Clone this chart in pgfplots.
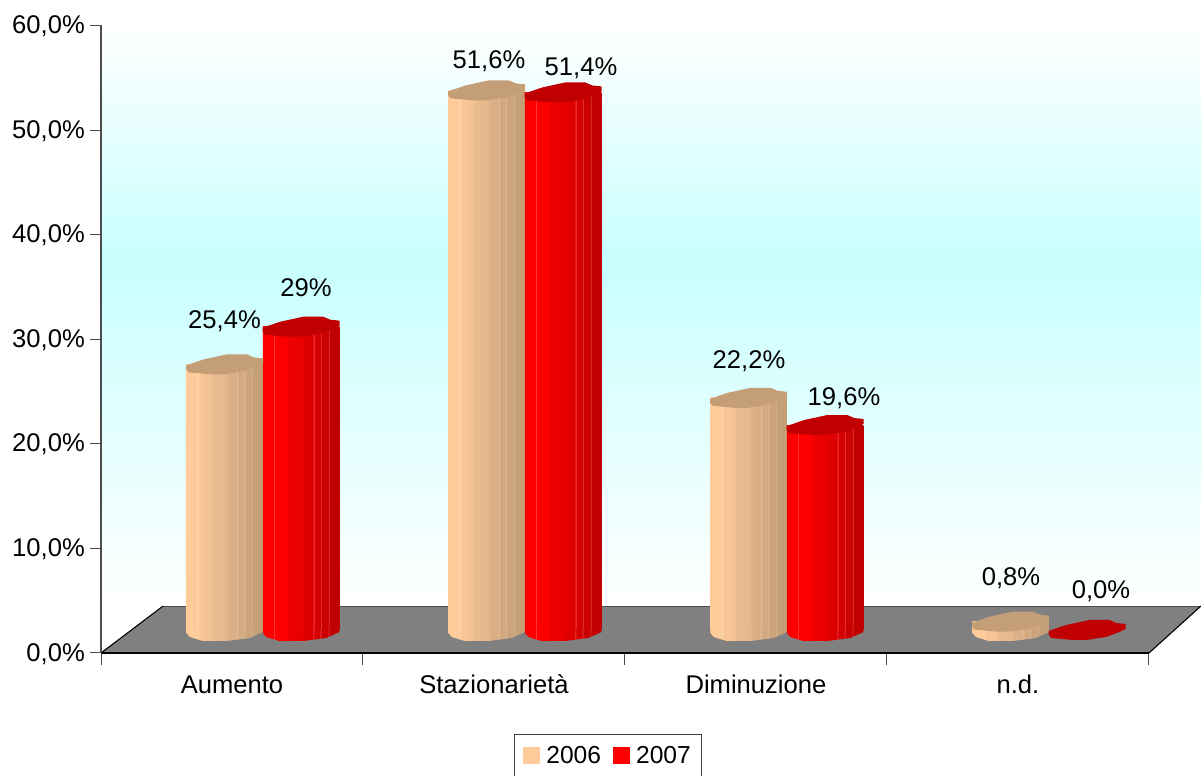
\documentclass[border=0pt]{standalone}
\usepackage{fontspec}
\setmainfont{Liberation Sans}
\usepackage{pgfplots}
\usepackage{pgfplotstable}
\pgfplotsset{compat=1.18}
\newcommand{\lfont}{\fontsize{25.6bp}{30bp}\selectfont}
\definecolor{tanc}{HTML}{FFCC99}
\definecolor{tantop}{HTML}{C49E76}
\definecolor{redtop}{HTML}{C00000}
\definecolor{wallc}{HTML}{C8FFFF}
\definecolor{floorc}{HTML}{808080}
\pgfdeclareverticalshading{wall}{100bp}{color(0bp)=(white);color(25bp)=(white);color(54.7bp)=(wallc);color(75bp)=(white);color(100bp)=(white)}
\pgfdeclarehorizontalshading{barA}{100bp}{rgb(0bp)=(1,.80,.60);rgb(25bp)=(1,.80,.60);
 rgb(31.8bp)=(.99,.79,.60);rgb(32bp)=(.99,.84,.68);rgb(32.6bp)=(.99,.84,.68);rgb(32.8bp)=(.98,.78,.59);
 rgb(41bp)=(.95,.76,.58);rgb(41.2bp)=(.92,.74,.56);
 rgb(51.3bp)=(.90,.72,.55);rgb(51.5bp)=(.87,.70,.53);
 rgb(57.6bp)=(.85,.68,.52);rgb(57.8bp)=(.89,.74,.60);rgb(58.4bp)=(.89,.74,.60);rgb(58.6bp)=(.83,.67,.50);
 rgb(62.3bp)=(.82,.66,.50);rgb(62.5bp)=(.85,.71,.57);rgb(63bp)=(.85,.71,.57);rgb(63.2bp)=(.80,.65,.49);
 rgb(67.5bp)=(.80,.64,.48);rgb(67.7bp)=(.82,.69,.55);rgb(68.2bp)=(.82,.69,.55);rgb(68.4bp)=(.78,.63,.47);
 rgb(75bp)=(.77,.62,.46);rgb(100bp)=(.77,.62,.46)}
\pgfdeclarehorizontalshading{barB}{100bp}{rgb(0bp)=(1,0,0);rgb(25bp)=(1,0,0);
 rgb(31.8bp)=(1,0,0);rgb(32bp)=(1,.2,.2);rgb(32.5bp)=(1,.2,.2);rgb(32.7bp)=(1,0,0);
 rgb(41bp)=(.98,0,0);rgb(41.2bp)=(.94,0,0);
 rgb(51.3bp)=(.90,0,0);rgb(51.5bp)=(.88,0,0);
 rgb(57.6bp)=(.86,0,0);rgb(57.8bp)=(.92,.2,.2);rgb(58.3bp)=(.92,.2,.2);rgb(58.5bp)=(.84,0,0);
 rgb(62.3bp)=(.82,0,0);rgb(62.5bp)=(.87,.18,.18);rgb(63bp)=(.87,.18,.18);rgb(63.2bp)=(.80,0,0);
 rgb(67.5bp)=(.79,0,0);rgb(67.7bp)=(.83,.16,.16);rgb(68.2bp)=(.83,.16,.16);rgb(68.4bp)=(.76,0,0);
 rgb(75bp)=(.75,0,0);rgb(100bp)=(.75,0,0)}
\newcommand{\pmv}[2]{\pgfpathmoveto{\pgfqpoint{#1bp}{#2bp}}}
\newcommand{\pln}[2]{\pgfpathlineto{\pgfqpoint{#1bp}{#2bp}}}
\newcommand{\capshape}{\pgfsetcornersarced{\pgfqpoint{5bp}{5bp}}%
 \pmv{-38.5}{-5}\pln{-38.5}{-1}\pln{-21}{5}\pln{2}{10}\pln{22}{10}\pln{29}{7}\pln{38.5}{6}\pln{38.5}{1}\pln{32}{-2}\pln{19}{-7}\pln{-1}{-10}\pln{-14}{-10}\pln{-36}{-8}\pgfpathclose}
\pgfdeclareplotmark{capm}{\capshape\pgfusepathqfill}
\newcommand{\baseshape}{\pgfsetcornersarced{\pgfqpoint{2bp}{2bp}}%
 \pmv{-38.25}{1}\pln{-38.25}{-3}\pln{-35}{-7}\pln{-22}{-11}\pln{2}{-11}\pln{25}{-8}\pln{38.25}{-2}\pln{38.25}{1}\pgfpathclose}
\pgfdeclareplotmark{baseA}{\baseshape\pgfshadepath{barA}{0}\pgfusepath{discard}}
\pgfdeclareplotmark{baseB}{\baseshape\pgfshadepath{barB}{0}\pgfusepath{discard}}
\pgfplotstableread{
x v b
0.354 25.4 0
1.354 51.6 0
2.354 22.2 0
3.354 0.8 0
}\dataA
\pgfplotstableread{
x v b
0.646 29.0 0
1.646 51.4 0
2.646 19.6 0
3.646 0.0 0
}\dataB
\pgfplotstableread{
x v dx dy lab
0.5 25.4 -38.5 43.5 25,4
1.5 51.6 -36 29.5 51,6
2.5 22.2 -38 37 22,2
3.5 0.8 -38 43 0,8
0.5 29.0 43 39 29
1.5 51.4 56 24 51,4
2.5 19.6 57 27 19,6
3.5 0.0 52 39 0,0
}\dataL
\pgfplotsset{barsA/.style={ybar, bar width=76.5bp, bar shift=0pt, draw=none, shade, shading=barA},
 barsB/.style={ybar, bar width=76.5bp, bar shift=0pt, draw=none, shade, shading=barB}}
\begin{document}
\begin{tikzpicture}[font=\lfont]
\path[use as bounding box, clip] (0,0) rectangle (1201bp,776bp);
\begin{axis}[
 at={(101bp,123bp)}, anchor=south west,
 scale only axis, width=1048bp, height=627.5bp,
 xmin=0, xmax=4, ymin=0, ymax=60, clip=false, axis on top,
 axis lines=left, axis line style={-},
 x axis line style={black, line width=1.3bp},
 y axis line style={color=black!70, line width=1.1bp},
 tick align=outside, tick style={color=black!70, line width=1bp},
 xtick={0.5,1.5,2.5,3.5},
 xticklabels={Aumento,Stazionarietà,Diminuzione,n.d.},
 minor xtick={0,1,2,3,4},
 major x tick style={draw=none},
 minor tick length=12bp, major tick length=11bp,
 ytick={0,10,20,30,40,50,60},
 yticklabels={{0,0\%},{10,0\%},{20,0\%},{30,0\%},{40,0\%},{50,0\%},{60,0\%}},
 yticklabel style={inner sep=0pt, anchor=east, xshift=-5bp, yshift=-0.8bp},
 xticklabel style={inner sep=0pt, anchor=base, yshift=-29bp},
 legend columns=2,
 legend style={at={(0.394,-0.1291)}, anchor=north west, draw=black!75, line width=1bp,
   inner xsep=9bp, inner ysep=10bp, font=\fontsize{24.6bp}{29bp}\selectfont, /tikz/every even column/.style={column sep=10bp}},
 legend cell align=left,
 legend image code/.code={\fill[draw=none,#1] (0bp,-8.5bp) rectangle (17bp,8.5bp); \path (21bp,0);},
]
\addlegendimage{fill=tanc, draw=none}
\addlegendentry{2006}
\addlegendimage{fill=red, draw=none}
\addlegendentry{2007}
\shade[shading=wall] (axis cs:0,60) rectangle (axis cs:4.198,4.483);
\fill[floorc] (axis cs:0,0) -- (axis cs:0.2366,4.483) -- (axis cs:4.198,4.483) -- (axis cs:4,0) -- cycle;
\draw[black!70, line width=1bp] (axis cs:0.2366,4.483) -- (axis cs:4.198,4.483);
\draw[black, line width=1.1bp] (axis cs:0,0) -- (axis cs:0.2366,4.483);
\draw[black, line width=1.1bp] (axis cs:4,0) -- (axis cs:4.198,4.483);
\end{axis}
\begin{axis}[
 at={(132bp,146bp)}, anchor=south west,
 scale only axis, width=1048bp, height=627.5bp,
 xmin=0, xmax=4, ymin=0, ymax=60, clip=false, hide axis,
]
\addplot[barsA, skip coords between index={1}{4}] table[x=x,y=v]{\dataA};
\addplot[barsA, skip coords between index={0}{1}, skip coords between index={2}{4}] table[x=x,y=v]{\dataA};
\addplot[barsA, skip coords between index={0}{2}, skip coords between index={3}{4}] table[x=x,y=v]{\dataA};
\addplot[barsA, skip coords between index={0}{3}] table[x=x,y=v]{\dataA};
\addplot[only marks, mark=baseA] table[x=x,y=b]{\dataA};
\addplot[only marks, mark=capm, mark options={fill=tantop,draw=none}, color=tantop] table[x=x,y=v]{\dataA};
\addplot[barsB, skip coords between index={1}{4}] table[x=x,y=v]{\dataB};
\addplot[barsB, skip coords between index={0}{1}, skip coords between index={2}{4}] table[x=x,y=v]{\dataB};
\addplot[barsB, skip coords between index={0}{2}, skip coords between index={3}{4}] table[x=x,y=v]{\dataB};
\addplot[only marks, mark=baseB, skip coords between index={3}{4}] table[x=x,y=b]{\dataB};
\addplot[only marks, mark=capm, mark options={fill=redtop,draw=none}, color=redtop] table[x=x,y=v]{\dataB};
\addplot[draw=none, mark=none, point meta=explicit symbolic,
  visualization depends on={\thisrow{dx} \as \dxv},
  visualization depends on={\thisrow{dy} \as \dyv},
  nodes near coords={\pgfplotspointmeta\%},
  every node near coord/.style={anchor=center, inner sep=0pt, xshift=\dxv bp, yshift=\dyv bp, font=\lfont, color=black},
] table[x=x,y=v,meta=lab]{\dataL};
\end{axis}
\end{tikzpicture}
\end{document}
